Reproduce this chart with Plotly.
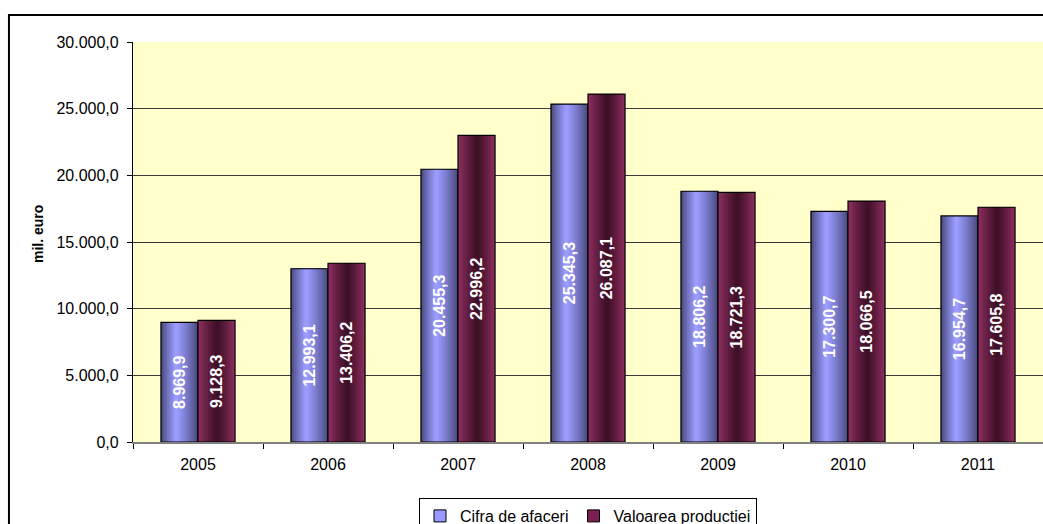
import plotly.graph_objects as go

years = ["2005", "2006", "2007", "2008", "2009", "2010", "2011"]
cifra = [8969.9, 12993.1, 20455.3, 25345.3, 18806.2, 17300.7, 16954.7]
valoarea = [9128.3, 13406.2, 22996.2, 26087.1, 18721.3, 18066.5, 17605.8]
series_names = ["Cifra de afaceri", "Valoarea productiei"]

FONT = "Liberation Sans, Arial, sans-serif"
W = 0.285
K = 14

# (edge colour, peak colour, peak position as fraction of bar width)
blue_style = ((72, 72, 124), (156, 156, 255), 0.42)
maroon_style = ((144, 48, 97), (64, 16, 40), 0.52)


def mix(c0, c1, f):
    return "rgb(%d,%d,%d)" % tuple(round(a + (b - a) * f) for a, b in zip(c0, c1))


fig = go.Figure()

for vals, base_off, style, legend_color, name in [
    (cifra, -W, blue_style, "#9999FF", series_names[0]),
    (valoarea, 0.0, maroon_style, "#7A2050", series_names[1]),
]:
    edge, peak, p = style
    P = p * W
    half_core = 0.04 * W
    for k in range(K + 1):
        f = k / K
        left = (P - half_core) * f
        right = W - (W - P - half_core) * f
        fig.add_trace(go.Bar(
            x=years, y=vals, width=right - left, offset=base_off + left,
            marker=dict(color=mix(edge, peak, f ** 0.85), line=dict(width=0)),
            showlegend=False, hoverinfo="skip",
        ))
    fig.add_trace(go.Bar(
        x=years, y=vals, width=W, offset=base_off,
        marker=dict(color="rgba(0,0,0,0)", line=dict(color="black", width=1.2)),
        texttemplate="%{y:,.1f}", textposition="inside", textangle=-90,
        insidetextanchor="middle", constraintext="none",
        textfont=dict(family=FONT, size=16, color="white", weight="bold"),
        showlegend=False, hoverinfo="skip",
    ))
    fig.add_trace(go.Bar(
        x=[None], y=[None], name=name,
        marker=dict(color=legend_color, line=dict(color="black", width=1)),
    ))

fig.update_layout(
    width=1043, height=524,
    margin=dict(l=133, r=0, t=42, b=82, autoexpand=False),
    paper_bgcolor="white", plot_bgcolor="#FFFFCC",
    barmode="overlay",
    separators=",.",
    font=dict(family=FONT, size=16, color="black"),
    showlegend=True,
    legend=dict(
        orientation="h", x=0.5, xanchor="center", y=-0.14, yanchor="top",
        bordercolor="black", borderwidth=1, bgcolor="white",
        font=dict(family=FONT, size=16), itemwidth=30, tracegroupgap=0,
    ),
    xaxis=dict(
        type="category", range=[-0.5, 6.5], tickson="boundaries",
        ticks="outside", ticklen=5, tickcolor="black",
        showgrid=False, showline=True, linecolor="#808080", linewidth=1.5,
        ticklabelstandoff=7, zeroline=False,
    ),
    yaxis=dict(
        range=[0, 30000], dtick=5000, tickformat=",.1f",
        ticks="outside", ticklen=5, tickcolor="black",
        showgrid=True, gridcolor="#3A3A3A", gridwidth=1,
        showline=True, linecolor="black", linewidth=1.2,
        zeroline=False, ticklabelstandoff=5,
    ),
    annotations=[dict(
        text="<b>mil. euro</b>", xref="paper", yref="paper",
        x=-0.1044, y=0.52, xanchor="center", yanchor="middle",
        textangle=-90, showarrow=False, font=dict(family=FONT, size=14),
    )],
    shapes=[dict(
        type="rect", xref="paper", yref="paper",
        x0=-0.1363, y0=-0.4, x1=1.05, y1=1.0675,
        line=dict(color="black", width=2), fillcolor="rgba(0,0,0,0)", layer="below",
    )],
)

fig.write_html("out.html")
